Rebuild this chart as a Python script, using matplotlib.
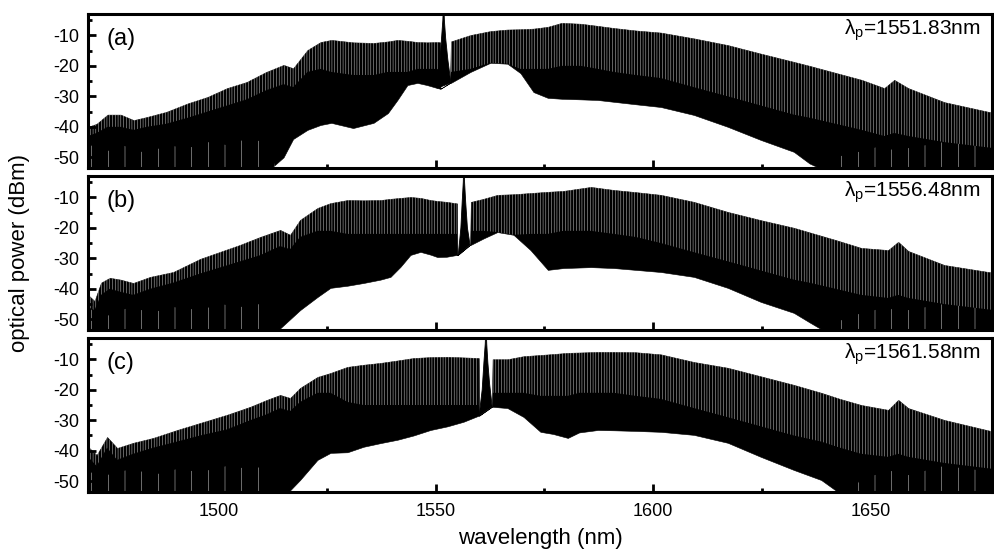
import numpy as np
import matplotlib.pyplot as plt
from matplotlib.ticker import MultipleLocator

plt.rcParams['font.family'] = ['Liberation Sans', 'DejaVu Sans']
plt.rcParams['axes.unicode_minus'] = False
plt.rcParams['hatch.linewidth'] = 0.3
plt.rcParams['mathtext.fontset'] = 'custom'
plt.rcParams['mathtext.rm'] = 'Liberation Sans'
plt.rcParams['mathtext.it'] = 'Liberation Sans:italic'

# envelopes: comb peaks (top), end of the white gaps (mid),
# floor, and how high the deep noise dips reach where the floor is off scale (dips)
# panel (a), pump at 1551.83 nm
wl_a = [1470, 1472, 1474.5, 1477.5, 1480.5, 1483.5, 1488, 1493, 1497.5, 1502,
        1506.5, 1511, 1515, 1517.2, 1520.5, 1523.5, 1526, 1531, 1535.7, 1539,
        1541.2, 1543.5, 1545.8, 1548, 1550.4, 1551.0, 1551.1, 1553.3, 1553.5, 1558,
        1562.6, 1566.5, 1569.5, 1572.5, 1575.8, 1579, 1583.4, 1587.3, 1591, 1596,
        1601.8, 1609.4, 1617.2, 1624.8, 1632.4, 1636, 1642, 1648, 1653.2, 1655.5,
        1658.7, 1667, 1678.5]
top_a = [-40, -39, -36, -36, -37.8, -36.8, -35.1, -32.3, -30.2, -27.3,
         -25.3, -22, -19.7, -20.8, -14.8, -12.2, -11.5, -12.3, -12.5, -12,
         -11.5, -11.8, -12.2, -12.3, -12.2, -12.3, -27.5, -25.6, -12, -9.9,
         -8.6, -8.1, -8, -7.8, -7.2, -5.9, -6.2, -6.9, -7.6, -8.4,
         -9.1, -11, -13.2, -16, -18.7, -20, -22.3, -24.6, -27.3, -24.6,
         -27.3, -31.9, -35.5]
mid_a = [-43, -42, -40, -40, -41, -40, -39, -37, -35, -33,
         -31, -28, -26, -27, -22, -21, -22, -23, -23, -22,
         -22, -22, -21, -21, -21, -22, -27.5, -25.6, -22, -21,
         -19, -19.3, -21, -21, -21, -20, -20, -21, -22, -23,
         -24, -27, -30, -33, -36, -37, -39, -41, -43, -42,
         -43, -45, -47]
floor_a = [-60, -60, -60, -60, -60, -60, -60, -60, -60, -60,
           -60, -55, -50, -44, -41, -39.4, -38.7, -40.4, -38.7, -35.5,
           -31.2, -26.3, -25.6, -26.3, -27.3, -27.5, -27.5, -25.6, -25.6, -22,
           -19, -19.3, -22.4, -28.6, -30.5, -30.8, -31, -31.2, -31.8, -32.6,
           -33.5, -36.1, -40, -44.3, -48.2, -52, -56, -60, -60, -60,
           -60, -60, -60]
dips_a = [-47, -45, -48, -46, -47, -49, -46, -47, -45, -46,
          -44, -45, -60, -60, -60, -60, -60, -60, -60, -60,
          -60, -60, -60, -60, -60, -60, -60, -60, -60, -60,
          -60, -60, -60, -60, -60, -60, -60, -60, -60, -60,
          -60, -60, -60, -60, -60, -60, -50, -48, -46, -48,
          -47, -45, -47]
pump_wl_a = [1550.4, 1551.0, 1551.35, 1551.65, 1551.83, 1552.0, 1552.3, 1552.8, 1553.5]
pump_db_a = [-27.3, -18, -11, -5, 2, -5, -11, -18, -25.6]

# panel (b), pump at 1556.48 nm
wl_b = [1470, 1471.5, 1473, 1475, 1477.5, 1480.4, 1484.3, 1489.6, 1495.8, 1500.4,
        1505, 1509.6, 1514.2, 1516.5, 1518.8, 1522.8, 1525.8, 1529.7, 1533.4, 1537.3,
        1539.6, 1541.9, 1544.2, 1546.5, 1548.8, 1550.4, 1552.5, 1554.9, 1555.0, 1557.9,
        1558.1, 1561, 1564.2, 1567.9, 1571.8, 1575.8, 1579.4, 1585.7, 1591, 1596,
        1601.8, 1609.4, 1617.2, 1624.8, 1632.4, 1636, 1642, 1647.9, 1654.1, 1656.4,
        1658.7, 1667, 1678.5]
top_b = [-42, -44, -38, -36.4, -37, -38.1, -36.1, -34.5, -30.2, -27.9,
         -25.6, -23, -20.7, -22.3, -17.4, -13.5, -11.9, -10.9, -11, -10.9,
         -10.5, -10.2, -9.9, -10.2, -10.9, -11.2, -11.5, -12, -29, -25.6,
         -11.5, -10.5, -9.2, -9, -8.6, -8.2, -7.9, -6.6, -7.6, -8.3,
         -9.2, -11.5, -14.8, -17.5, -20, -21.5, -24, -26.6, -27.3, -24.6,
         -27.6, -32.2, -34.8]
mid_b = [-46, -47, -42, -40, -41, -42, -40, -38, -35, -33,
         -31, -29, -26, -27, -23, -21, -21, -22, -22, -22,
         -22, -22, -22, -22, -22, -22, -22, -22, -29, -25.6,
         -21, -21, -21.4, -22.3, -22, -22, -21, -21, -22, -23,
         -25, -28, -31, -34, -37, -38, -40, -42, -43, -42,
         -43, -45, -47]
floor_b = [-60, -60, -60, -60, -60, -60, -60, -60, -60, -60,
           -60, -57, -53, -50, -47, -42.7, -39.7, -39, -38.1, -37,
           -36.1, -32.8, -28.9, -27.9, -28.8, -29.6, -29.5, -28.9, -29, -25.6,
           -25.6, -23.5, -21.4, -22.3, -27.3, -33.8, -33.2, -32.9, -33.2, -33.8,
           -34.5, -36.1, -39.7, -44.3, -47.9, -51, -56, -60, -60, -60,
           -60, -60, -60]
dips_b = [-48, -46, -47, -49, -47, -46, -48, -46, -47, -45,
          -46, -45, -60, -60, -60, -60, -60, -60, -60, -60,
          -60, -60, -60, -60, -60, -60, -60, -60, -60, -60,
          -60, -60, -60, -60, -60, -60, -60, -60, -60, -60,
          -60, -60, -60, -60, -60, -60, -51, -48, -46, -48,
          -47, -45, -47]
pump_wl_b = [1555.2, 1555.8, 1556.1, 1556.35, 1556.48, 1556.65, 1556.9, 1557.3, 1557.9]
pump_db_b = [-29, -20, -11.5, -5, 2, -5, -11.5, -20, -25.6]

# panel (c), pump at 1561.58 nm
wl_c = [1470, 1472, 1474.4, 1476.7, 1480.4, 1485, 1490.5, 1495.8, 1502, 1507.3,
        1511.2, 1514.2, 1516.5, 1518.8, 1522.8, 1525.8, 1529.7, 1533.4, 1537.3, 1541.2,
        1544.9, 1548.8, 1552.7, 1556.4, 1559.9, 1560.0, 1562.9, 1563.1, 1566.5, 1570.2,
        1574.1, 1577, 1580.4, 1583, 1587.3, 1591, 1596, 1601.8, 1609.4, 1617.2,
        1624.8, 1632.4, 1638.7, 1643, 1647.9, 1654.1, 1656.4, 1658.7, 1667, 1678.5]
top_c = [-38.7, -41.4, -35.5, -39.1, -37.4, -35.8, -33.2, -30.9, -28.2, -25.6,
         -23.3, -21.7, -22.7, -19.4, -15.8, -14.5, -12.5, -11.8, -11.2, -10.4,
         -9.6, -9.3, -9.2, -9.4, -9.6, -28.5, -25.6, -10, -10, -9,
         -8.6, -8.3, -7.9, -7.8, -7.6, -7.6, -7.7, -8.4, -10.9, -12.8,
         -15.6, -18.4, -21, -23, -25, -26.6, -23.3, -26, -29.9, -33.8]
mid_c = [-42, -45, -39, -43, -41, -39, -37, -35, -33, -30,
         -28, -26, -27, -24, -21, -21, -24, -25, -25, -25,
         -25, -25, -25, -25, -25, -28.5, -25.6, -21, -21, -21,
         -22, -22, -22, -21, -21, -21, -22, -23, -26, -29,
         -32, -35, -37, -39, -41, -42, -41, -42, -44, -46]
floor_c = [-60, -60, -60, -60, -60, -60, -60, -60, -60, -60,
           -60, -56, -53, -49.6, -43, -40.7, -40.5, -38.7, -37.5, -36.4,
           -35, -33.2, -32, -30.5, -28.5, -28.5, -25.6, -25.6, -26, -28.9,
           -33.8, -34.5, -35.8, -34, -33.2, -33.3, -33.5, -33.8, -34.8, -37.4,
           -42, -46.3, -49.6, -54, -60, -60, -60, -60, -60, -60]
dips_c = [-48, -46, -48, -47, -46, -48, -46, -47, -45, -46,
          -45, -60, -60, -60, -60, -60, -60, -60, -60, -60,
          -60, -60, -60, -60, -60, -60, -60, -60, -60, -60,
          -60, -60, -60, -60, -60, -60, -60, -60, -60, -60,
          -60, -60, -60, -60, -49, -47, -46, -48, -45, -47]
pump_wl_c = [1560.0, 1560.7, 1561.1, 1561.4, 1561.58, 1561.75, 1562.0, 1562.4, 1563.0]
pump_db_c = [-28.5, -20, -11, -5, 2, -5, -11, -18, -25.6]

panel_labels = ['(a)', '(b)', '(c)']
pump_labels = ['1551.83', '1556.48', '1561.58']

panels = [
    (wl_a, top_a, mid_a, floor_a, dips_a, pump_wl_a, pump_db_a),
    (wl_b, top_b, mid_b, floor_b, dips_b, pump_wl_b, pump_db_b),
    (wl_c, top_c, mid_c, floor_c, dips_c, pump_wl_c, pump_db_c),
]

fig = plt.figure(figsize=(9.94, 5.49), dpi=100)
bottoms = [0.694, 0.399, 0.104]

for i, (wl, top, mid, floor, dips, pwl, pdb) in enumerate(panels):
    ax = fig.add_axes([0.0885, bottoms[i], 0.9095, 0.2805])
    # whole comb band in black, then the gaps between comb lines as white stripes
    ax.fill_between(wl, floor, top, facecolor='black', edgecolor='black', lw=0.4)
    ax.fill_between(wl, mid, top, facecolor='none', edgecolor='#e8e8e8', hatch='||||||', lw=0)
    ax.fill_between(wl, -60, dips, facecolor='none', edgecolor='white', hatch='|', lw=0)
    ax.fill(pwl, pdb, facecolor='black', edgecolor='black', lw=0.6)

    ax.set_xlim(1470, 1678)
    ax.set_ylim(-53.5, -3)
    ax.set_xticks([1500, 1550, 1600, 1650])
    ax.xaxis.set_minor_locator(MultipleLocator(25))
    ax.set_yticks([-50, -40, -30, -20, -10])
    ax.yaxis.set_minor_locator(MultipleLocator(5))
    ax.tick_params(which='both', direction='in', top=False, right=False, width=2)
    ax.tick_params(which='major', length=6, labelsize=13, pad=6)
    ax.tick_params(axis='x', which='major', pad=8)
    ax.tick_params(which='minor', length=3)
    for sp in ax.spines.values():
        sp.set_linewidth(2.2)

    ax.text(0.021, 0.84, panel_labels[i], transform=ax.transAxes,
            fontsize=17, ha='left', va='center')
    ax.text(0.988, 0.864, r'λ$_{\rm p}$=' + pump_labels[i] + 'nm', transform=ax.transAxes,
            fontsize=15, ha='right', va='baseline')

    if i < 2:
        ax.tick_params(labelbottom=False)
    else:
        ax.set_xlabel('wavelength (nm)', fontsize=16, labelpad=6)

fig.text(0.02, 0.539, 'optical power (dBm)', rotation=90, fontsize=16,
         ha='center', va='center')

fig.savefig('out.png', dpi=100)
